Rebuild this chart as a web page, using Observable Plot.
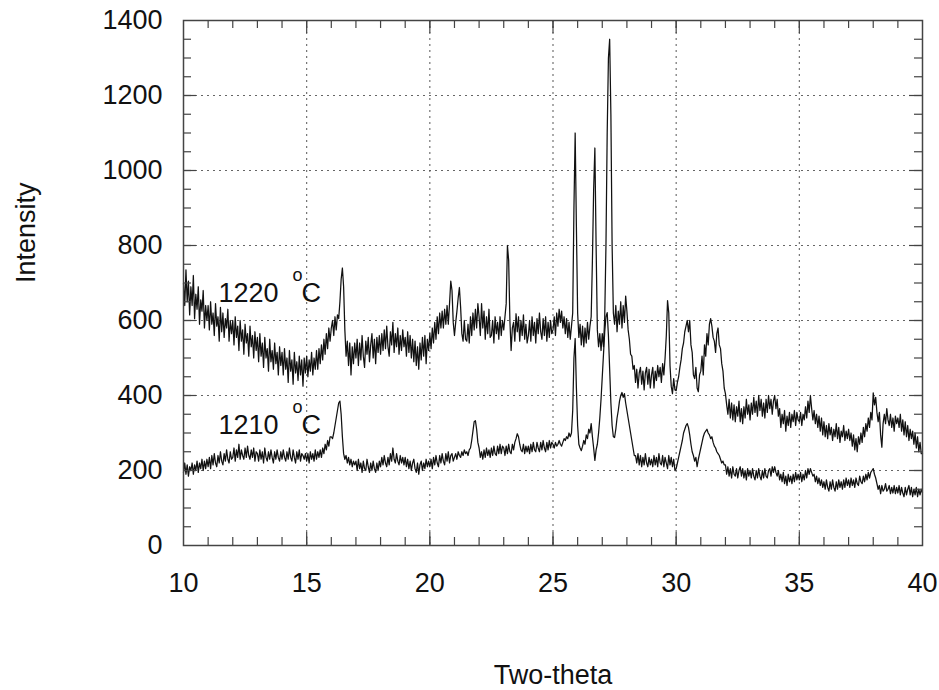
<!DOCTYPE html>
<html>
<head>
<meta charset="utf-8">
<script src="https://cdn.jsdelivr.net/npm/d3@7"></script>
<script src="https://cdn.jsdelivr.net/npm/@observablehq/plot@0.6"></script>
<style>
  html, body { margin: 0; padding: 0; background: #fff; }
</style>
</head>
<body>
<div id="chart"></div>
<script>
// XRD scans, 2θ from 10° to 40° in 0.05° steps (one row per degree)
const scanStart = 10;
const scanStep = 0.05;

const intensity1220 = [
  700,640,735,650,705,615,690,640,720,605,670,630,690,590,655,625,680,580,640,600, // 10
  640,575,650,590,620,560,645,585,610,545,635,570,620,555,605,580,630,545,600,565, // 11
  600,535,610,555,585,520,600,545,575,510,590,540,565,505,585,530,560,500,570,520, // 12
  555,490,565,505,540,475,555,500,525,465,550,490,520,470,540,485,515,455,530,480, // 13
  515,455,525,470,500,435,520,465,495,430,515,460,490,440,505,455,495,425,500,460, // 14
  505,450,495,465,515,455,500,470,520,470,525,485,535,495,550,510,565,525,580,545, // 15
  580,600,560,610,575,615,605,650,710,740,690,575,505,545,480,540,455,530,485,540, // 16
  500,550,480,540,495,560,505,475,545,510,555,490,535,565,500,550,485,555,515,560, // 17
  510,565,520,575,525,585,530,505,570,535,595,515,565,530,580,510,560,520,575,530, // 18
  555,505,570,515,560,500,550,490,545,480,530,470,540,495,555,505,560,485,550,520, // 19
  565,525,580,540,595,550,610,565,620,580,625,580,630,590,640,590,645,705,680,595, // 20
  560,595,625,660,688,635,565,545,600,550,545,590,540,610,560,620,575,630,580,645, // 21
  610,560,645,580,625,550,610,565,630,555,560,600,540,610,565,595,550,610,560,600, // 22
  575,610,645,800,760,600,520,580,595,545,618,570,610,545,600,560,615,550,590,540, // 23
  560,600,545,610,560,595,540,605,565,620,570,550,605,560,610,545,595,555,600,565, // 24
  575,610,560,620,585,630,595,625,580,610,565,605,555,595,550,585,620,900,1100,850, // 25
  620,555,590,535,585,530,580,540,595,550,585,610,760,950,1060,800,575,530,565,520, // 26
  565,530,610,800,1100,1300,1350,1150,800,620,590,640,570,625,590,650,580,640,595,665, // 27
  625,575,550,510,505,470,480,435,470,420,460,475,430,465,415,460,475,430,470,420, // 28
  455,475,420,465,440,480,450,475,435,485,455,500,560,653,620,480,425,405,445,415, // 29
  413,435,450,475,495,525,540,570,585,600,570,600,535,515,455,445,475,420,410,455, // 30
  465,505,455,535,505,565,535,590,605,585,555,545,515,565,580,535,525,485,465,420, // 31
  405,375,350,390,340,380,335,375,330,370,345,385,330,365,325,370,340,390,350,375, // 32
  335,380,350,395,355,385,345,400,360,390,345,380,340,390,355,400,365,390,350,385, // 33
  400,365,390,345,365,315,350,325,360,305,345,320,355,315,350,330,360,320,355,335, // 34
  330,355,320,350,335,370,340,385,355,400,365,335,360,325,350,315,345,305,340,295, // 35
  330,290,320,285,325,295,315,280,310,290,325,285,315,275,305,290,320,280,305,285, // 36
  310,280,300,265,295,255,285,250,290,270,300,275,315,290,325,305,340,315,355,335, // 37
  407,375,395,355,330,355,295,262,325,350,325,365,335,320,350,315,340,305,345,325, // 38
  340,315,350,305,335,295,330,290,320,280,310,285,305,270,300,260,290,250,275,245, // 39
  245                                                                              // 40
];

const intensity1210 = [
  195,220,190,215,185,210,200,220,190,215,200,225,195,220,205,230,200,225,205,230, // 10
  210,235,205,240,215,245,220,210,240,220,250,225,215,245,225,255,230,220,250,230, // 11
  235,260,225,255,235,270,230,255,240,230,260,235,265,240,230,255,235,260,225,250, // 12
  245,225,255,230,250,220,260,235,225,250,230,255,235,220,250,230,255,235,225,250, // 13
  230,255,235,225,250,230,260,235,225,255,235,220,250,230,255,225,245,240,230,245, // 14
  225,245,220,250,230,245,225,255,230,250,235,255,235,260,245,270,255,280,265,290, // 15
  290,285,300,320,340,360,380,385,350,290,245,230,240,220,235,215,230,210,225,215, // 16
  225,200,230,205,220,195,225,205,200,230,210,195,220,200,225,205,195,220,200,225, // 17
  210,235,215,240,220,210,235,215,245,225,260,230,220,245,225,215,240,220,235,215, // 18
  235,210,230,205,225,200,220,230,205,195,220,190,215,225,200,220,205,230,210,225, // 19
  210,230,205,235,215,240,220,210,240,220,245,225,215,245,225,250,220,240,245,225, // 20
  235,245,230,250,240,235,250,240,255,245,250,240,255,260,280,305,330,333,310,275, // 21
  260,235,250,230,255,235,260,240,255,235,260,240,265,245,240,265,245,270,245,265, // 22
  260,240,265,245,270,250,245,270,255,275,285,298,290,270,255,250,270,245,265,250, // 23
  265,245,270,250,275,255,250,275,260,250,275,255,280,260,250,275,255,280,260,275, // 24
  270,260,275,265,270,280,270,265,275,285,280,290,285,300,290,300,360,500,552,420, // 25
  320,270,260,253,265,280,270,295,285,310,300,325,290,260,227,255,270,300,340,390, // 26
  450,510,570,610,621,560,470,380,320,290,288,310,340,360,385,400,408,395,405,380, // 27
  360,340,320,300,280,260,240,240,220,245,215,240,210,235,215,245,220,210,235,215, // 28
  230,210,240,215,235,210,245,220,215,240,210,235,220,205,240,215,235,210,230,200, // 29
  205,220,235,250,265,280,300,310,320,325,315,295,270,250,240,225,235,210,230,245, // 30
  260,275,290,300,305,310,300,295,285,290,275,265,260,250,245,240,230,220,225,215, // 31
  215,190,210,185,205,180,210,190,185,205,180,200,210,185,205,180,200,175,205,185, // 32
  200,180,205,185,175,200,180,205,185,175,200,180,205,185,180,200,205,185,210,195, // 33
  210,195,185,200,175,190,170,195,165,185,160,190,170,185,165,190,170,195,175,190, // 34
  175,195,170,190,175,200,180,205,190,205,195,185,190,170,185,165,180,160,175,155, // 35
  170,150,175,155,145,170,150,175,155,145,170,150,175,155,170,150,175,155,180,160, // 36
  175,155,180,160,175,155,180,165,160,185,170,165,185,170,190,175,195,180,195,200, // 37
  205,190,180,165,150,160,138,160,145,150,165,145,150,160,138,155,140,160,138,155, // 38
  140,160,135,155,140,130,155,135,150,160,135,155,130,150,135,155,130,150,135,150, // 39
  140                                                                              // 40
];

const xTickLabels = [10, 15, 20, 25, 30, 35, 40];
const yTickLabels = [0, 200, 400, 600, 800, 1000, 1200, 1400];
const xMinorTicks = d3.range(11, 40);          // one-degree steps
const yMinorTicks = d3.range(50, 1400, 50);    // 50-count steps
const seriesNames = ["1220", "1210"];

// Pair each intensity with its 2θ position on the scan grid
const toPoints = (values) => values.map((v, i) => ({theta: +(scanStart + i * scanStep).toFixed(2), intensity: v}));
const scan1220 = toPoints(intensity1220);
const scan1210 = toPoints(intensity1210);

const W = 939, H = 690;
const mL = 183, mR = 17, mT = 20, mB = 145;
const frameW = W - mL - mR;
const frameH = H - mT - mB;
const minorLen = 8, majorLen = 13;
const font = "'Liberation Sans', Arial, Helvetica, sans-serif";

const inner = (arr) => arr.slice(1, -1);
const tickStyle = {stroke: "#444", strokeWidth: 1.2};

const chart = Plot.plot({
  width: W,
  height: H,
  marginLeft: mL,
  marginRight: mR,
  marginTop: mT,
  marginBottom: mB,
  style: {fontFamily: font, fontSize: "27px", color: "#111", background: "#fff"},
  x: {domain: [10, 40]},
  y: {domain: [0, 1400]},
  marks: [
    // dotted grid at the major ticks
    Plot.gridX(inner(xTickLabels), {stroke: "#555", strokeOpacity: 0.9, strokeWidth: 1.1, strokeDasharray: "2,4"}),
    Plot.gridY(inner(yTickLabels), {stroke: "#555", strokeOpacity: 0.9, strokeWidth: 1.1, strokeDasharray: "2,4"}),

    // the two diffraction patterns
    Plot.line(scan1220, {x: "theta", y: "intensity", stroke: "#111", strokeWidth: 1.25}),
    Plot.line(scan1210, {x: "theta", y: "intensity", stroke: "#111", strokeWidth: 1.25}),

    // inward tick marks on all four sides
    Plot.ruleX(xMinorTicks, {insetTop: frameH - minorLen, ...tickStyle}),
    Plot.ruleX(xMinorTicks, {insetBottom: frameH - minorLen, ...tickStyle}),
    Plot.ruleX(inner(xTickLabels), {insetTop: frameH - majorLen, ...tickStyle}),
    Plot.ruleX(inner(xTickLabels), {insetBottom: frameH - majorLen, ...tickStyle}),
    Plot.ruleY(yMinorTicks, {insetRight: frameW - minorLen, ...tickStyle}),
    Plot.ruleY(yMinorTicks, {insetLeft: frameW - minorLen, ...tickStyle}),
    Plot.ruleY(inner(yTickLabels), {insetRight: frameW - majorLen, ...tickStyle}),
    Plot.ruleY(inner(yTickLabels), {insetLeft: frameW - majorLen, ...tickStyle}),

    Plot.frame({stroke: "#444", strokeWidth: 1.5}),

    // tick labels
    Plot.axisX({ticks: xTickLabels, tickSize: 0, tickPadding: 27, label: null, fontSize: 27, tickFormat: d3.format("d")}),
    Plot.axisY({ticks: yTickLabels, tickSize: 0, tickPadding: 21, label: null, fontSize: 27, tickFormat: d3.format("d")}),

    // axis titles
    Plot.text(["Two-theta"], {text: d => d, frameAnchor: "bottom", dy: 138, lineAnchor: "bottom", fontSize: 27}),
    Plot.text(["Intensity"], {text: d => d, frameAnchor: "left", dx: -157, rotate: -90, fontSize: 27}),

    // temperature annotations
    Plot.text(seriesNames, {x: 11.42, y: (d, i) => [672, 320][i], text: d => d, textAnchor: "start", lineAnchor: "middle", fontSize: 27}),
    Plot.text(seriesNames, {x: 14.63, y: (d, i) => [722, 370][i], text: () => "o", textAnchor: "middle", lineAnchor: "middle", fontSize: 18}),
    Plot.text(seriesNames, {x: 14.79, y: (d, i) => [672, 320][i], text: () => "C", textAnchor: "start", lineAnchor: "middle", fontSize: 27})
  ]
});

document.getElementById("chart").appendChild(chart);
</script>
</body>
</html>
